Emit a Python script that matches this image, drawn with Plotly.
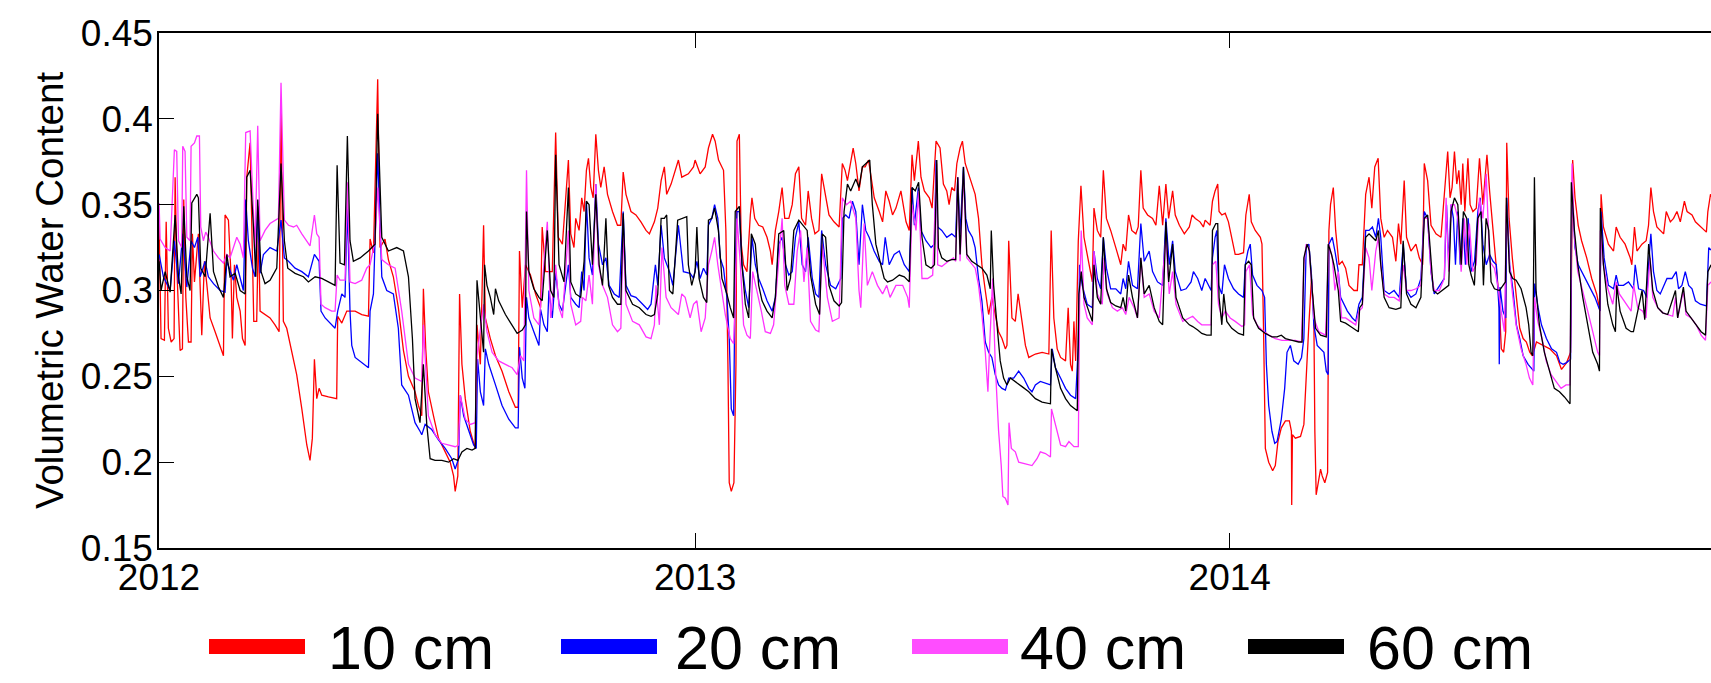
import pandas as pd
import plotly.graph_objects as go

BASE_DATE = "2012-01-01"
SERIES_NAMES = ["10 cm", "20 cm", "40 cm", "60 cm"]
YEAR_TICKS = ["2012-01-01", "2013-01-01", "2014-01-01"]
YEAR_LABELS = ["2012", "2013", "2014"]
Y_TICKS = [0.15, 0.2, 0.25, 0.3, 0.35, 0.4, 0.45]
Y_LABELS = ["0.15", "0.2", "0.25", "0.3", "0.35", "0.4", "0.45"]
X_END_DAY = 1059.55  # last day shown at the right edge (days after BASE_DATE)

# [day after 2012-01-01, volumetric water content]
D10 = [[0.07,0.339],[1.4,0.272],[3.7,0.271],[4.9,0.340],[6.4,0.278],[8.3,0.270],[10.3,0.272],[11.0,0.366],[12.4,0.308],[14.4,0.265],[16.0,0.266],[16.9,0.353],[18.3,0.296],[20.1,0.270],[21.9,0.270],[22.8,0.333],[24.2,0.305],[25.8,0.325],[26.9,0.333],[29.2,0.274],[31.0,0.317],[32.6,0.304],[34.9,0.284],[38.3,0.276],[41.7,0.268],[44.0,0.262],[45.1,0.344],[47.4,0.341],[49.2,0.308],[50.1,0.272],[51.5,0.315],[53.1,0.296],[55.4,0.288],[57.0,0.272],[58.8,0.268],[59.9,0.366],[62.2,0.386],[63.8,0.329],[64.7,0.282],[66.7,0.282],[67.9,0.337],[69.0,0.288],[72.4,0.286],[75.8,0.284],[79.2,0.280],[82.0,0.276],[83.3,0.411],[84.9,0.282],[87.2,0.278],[90.6,0.264],[94.0,0.251],[97.5,0.231],[100.9,0.210],[103.1,0.201],[104.7,0.214],[106.1,0.260],[107.7,0.237],[109.3,0.243],[111.1,0.239],[115.7,0.238],[121.3,0.237],[122.0,0.285],[124.8,0.281],[128.2,0.288],[133.9,0.288],[138.4,0.286],[143.0,0.285],[144.1,0.330],[146.4,0.322],[149.3,0.423],[150.9,0.325],[154.3,0.330],[156.6,0.318],[160.0,0.308],[163.4,0.290],[166.9,0.265],[170.3,0.250],
[174.8,0.241],[177.1,0.233],[179.4,0.227],[180.5,0.301],[182.1,0.266],[183.9,0.241],[187.4,0.227],[190.8,0.214],[195.4,0.206],[198.8,0.200],[201.1,0.192],[202.2,0.183],[204.0,0.192],[205.2,0.298],[206.8,0.257],[209.1,0.237],[212.5,0.218],[215.9,0.208],[217.1,0.280],[219.4,0.257],[221.6,0.338],[222.8,0.284],[226.2,0.272],[229.7,0.262],[234.2,0.253],[238.8,0.241],[243.3,0.232],[245.2,0.232],[246.1,0.323],[248.0,0.290],[250.2,0.315],[253.6,0.309],[257.1,0.298],[260.5,0.290],[261.6,0.337],[263.9,0.311],[268.5,0.311],[269.6,0.343],[270.8,0.392],[272.6,0.331],[275.4,0.327],[276.5,0.340],[279.5,0.376],[281.1,0.333],[283.3,0.325],[284.5,0.342],[286.8,0.335],[288.6,0.354],[290.2,0.346],[291.8,0.370],[293.2,0.377],[294.8,0.360],[296.4,0.354],[298.2,0.391],[300.0,0.370],[301.6,0.360],[303.9,0.372],[306.2,0.356],[309.6,0.346],[313.0,0.338],[315.3,0.338],[316.9,0.369],[318.8,0.356],[322.2,0.346],[325.6,0.344],[329.0,0.340],[332.5,0.335],[334.8,0.333],[338.2,0.340],[340.5,0.348],[342.8,0.364],[345.0,0.372],[346.6,0.356],[349.6,0.362],
[354.6,0.376],[356.9,0.366],[361.4,0.368],[364.9,0.372],[366.0,0.376],[369.4,0.368],[372.9,0.372],[375.1,0.383],[377.9,0.391],[379.7,0.387],[382.0,0.376],[385.4,0.370],[387.0,0.335],[388.4,0.257],[389.3,0.188],[390.7,0.183],[392.5,0.188],[393.9,0.257],[394.6,0.387],[396.2,0.391],[397.5,0.327],[399.1,0.315],[401.4,0.311],[403.7,0.344],[404.8,0.354],[406.7,0.342],[409.4,0.338],[412.2,0.337],[415.1,0.331],[417.4,0.323],[418.6,0.315],[420.8,0.335],[423.1,0.346],[425.4,0.360],[427.2,0.342],[430.0,0.342],[432.3,0.350],[434.5,0.368],[436.8,0.372],[438.7,0.342],[441.4,0.338],[443.2,0.358],[445.5,0.342],[447.8,0.333],[450.5,0.335],[452.4,0.368],[454.7,0.356],[457.4,0.344],[460.8,0.340],[464.3,0.337],[466.5,0.374],[468.4,0.370],[470.0,0.364],[472.2,0.374],[473.9,0.383],[475.7,0.374],[477.9,0.358],[480.2,0.372],[482.1,0.372],[484.4,0.376],[486.0,0.366],[488.3,0.354],[491.7,0.346],[494.0,0.340],[496.2,0.358],[498.5,0.352],[500.8,0.344],[503.1,0.348],[506.5,0.358],[510.0,0.340],[512.2,0.335],[514.1,0.379],[515.7,0.364],[518.4,0.387],[520.2,0.366],[522.5,0.358],[525.9,0.354],[527.8,0.348],[530.5,0.387],
[533.2,0.383],[535.5,0.362],[537.8,0.358],[539.4,0.350],[541.2,0.360],[543.1,0.358],[544.7,0.374],[546.9,0.383],[548.5,0.387],[550.4,0.374],[552.6,0.368],[554.9,0.362],[557.2,0.356],[559.5,0.342],[561.8,0.315],[564.1,0.300],[566.4,0.286],[568.6,0.296],[570.9,0.286],[573.2,0.276],[575.5,0.272],[577.8,0.266],[578.9,0.268],[580.1,0.329],[582.3,0.284],[584.6,0.282],[586.5,0.298],[588.7,0.284],[591.5,0.268],[593.8,0.261],[598.3,0.263],[602.9,0.264],[607.5,0.263],[609.1,0.335],[610.9,0.284],[613.2,0.266],[615.5,0.261],[618.9,0.259],[620.7,0.290],[622.3,0.257],[623.5,0.253],[624.6,0.282],[625.8,0.259],[627.6,0.329],[629.4,0.361],[631.5,0.331],[634.9,0.315],[637.2,0.305],[638.3,0.348],[640.6,0.335],[642.9,0.331],[644.7,0.370],[646.8,0.342],[649.7,0.335],[653.2,0.325],[656.6,0.315],[658.2,0.327],[660.0,0.323],[661.9,0.344],[664.1,0.335],[666.9,0.333],[668.5,0.337],[670.3,0.370],[671.9,0.348],[674.9,0.344],[678.3,0.342],[680.6,0.338],[682.9,0.361],[685.2,0.338],[687.4,0.362],[689.3,0.342],[692.0,0.358],[693.8,0.344],[696.6,0.338],[700.0,0.333],[703.4,0.337],[705.3,0.344],[707.5,0.342],
[710.7,0.340],[713.0,0.337],[714.2,0.341],[717.6,0.338],[719.2,0.352],[721.0,0.358],[722.8,0.362],[723.7,0.346],[725.6,0.344],[727.9,0.345],[730.1,0.340],[732.4,0.331],[734.7,0.321],[737.0,0.321],[740.4,0.322],[742.0,0.344],[744.3,0.356],[745.7,0.340],[748.4,0.335],[751.9,0.331],[753.0,0.327],[754.1,0.276],[755.3,0.208],[757.6,0.200],[760.3,0.195],[762.1,0.198],[763.9,0.212],[766.2,0.220],[769.0,0.224],[771.7,0.224],[773.1,0.218],[773.3,0.175],[773.8,0.216],[775.8,0.214],[779.3,0.215],[781.6,0.222],[783.4,0.257],[785.0,0.280],[786.8,0.307],[788.4,0.286],[789.1,0.218],[790.0,0.181],[791.4,0.188],[793.0,0.196],[794.1,0.192],[795.9,0.188],[797.8,0.194],[798.7,0.335],[799.8,0.350],[801.7,0.360],[803.3,0.335],[805.6,0.315],[807.8,0.317],[810.1,0.313],[812.4,0.303],[815.8,0.300],[818.1,0.300],[819.2,0.315],[821.5,0.315],[823.8,0.356],[826.1,0.366],[828.0,0.348],[830.0,0.372],[832.3,0.377],[834.1,0.342],[836.4,0.331],[838.7,0.335],[842.1,0.331],[844.4,0.317],[846.2,0.339],[847.8,0.327],[850.1,0.364],[851.7,0.331],[854.7,0.323],[858.1,0.327],[860.4,0.319],[862.7,0.315],[863.8,0.374],[866.1,0.364],[868.4,0.338],[871.8,0.333],[875.2,0.331],
[879.8,0.381],[881.4,0.354],[882.8,0.360],[884.4,0.381],[886.0,0.362],[887.4,0.370],[889.0,0.350],[890.1,0.374],[891.5,0.346],[893.6,0.377],[895.1,0.350],[897.0,0.346],[899.3,0.348],[901.5,0.377],[903.8,0.350],[906.6,0.379],[908.4,0.358],[910.7,0.335],[913.0,0.315],[914.8,0.296],[916.4,0.266],[918.0,0.264],[919.4,0.276],[920.1,0.386],[921.7,0.342],[923.9,0.319],[926.7,0.296],[929.0,0.278],[931.3,0.272],[933.5,0.270],[935.8,0.264],[937.6,0.262],[940.4,0.270],[945.0,0.268],[949.5,0.266],[954.1,0.262],[957.5,0.254],[961.0,0.258],[963.7,0.264],[965.1,0.376],[966.7,0.354],[968.9,0.338],[971.2,0.329],[974.7,0.319],[978.1,0.307],[981.5,0.298],[983.8,0.288],[984.5,0.356],[986.1,0.337],[989.5,0.327],[993.0,0.323],[994.8,0.337],[997.5,0.331],[1000.9,0.327],[1004.4,0.319],[1005.5,0.315],[1007.3,0.337],[1009.0,0.323],[1012.4,0.327],[1015.3,0.329],[1016.9,0.338],[1018.5,0.360],[1020.3,0.346],[1022.6,0.337],[1024.9,0.335],[1027.2,0.333],[1029.0,0.346],[1031.8,0.340],[1034.0,0.342],[1036.3,0.346],[1038.6,0.340],[1041.4,0.352],[1043.2,0.346],[1046.6,0.344],[1048.9,0.340],[1052.3,0.337],[1056.4,0.334],[1057.4,0.346],[1059.2,0.356],[1060.3,0.354]]

D20 = [[0.07,0.321],[3.0,0.308],[7.6,0.300],[10.5,0.329],[13.3,0.304],[16.2,0.333],[19.0,0.302],[21.9,0.329],[24.2,0.325],[26.5,0.331],[28.1,0.308],[31.5,0.317],[33.7,0.308],[37.2,0.304],[41.7,0.300],[45.1,0.299],[46.3,0.317],[50.8,0.306],[53.1,0.315],[55.4,0.308],[57.6,0.300],[59.2,0.353],[61.0,0.329],[63.8,0.313],[65.6,0.308],[67.4,0.349],[69.0,0.310],[71.3,0.321],[75.8,0.325],[80.4,0.323],[83.3,0.341],[85.6,0.319],[88.4,0.317],[92.9,0.313],[97.5,0.311],[102.0,0.308],[106.1,0.321],[109.3,0.317],[110.6,0.288],[113.4,0.284],[116.8,0.281],[120.2,0.278],[122.0,0.288],[124.8,0.298],[127.0,0.296],[128.6,0.349],[130.4,0.288],[131.6,0.268],[133.9,0.261],[138.4,0.258],[143.0,0.255],[144.1,0.288],[146.4,0.298],[149.3,0.380],[152.1,0.308],[155.5,0.300],[160.0,0.298],[163.4,0.278],[165.7,0.245],[170.3,0.239],
[174.8,0.223],[178.2,0.218],[179.4,0.216],[181.7,0.222],[186.2,0.219],[190.8,0.213],[195.4,0.208],[199.9,0.202],[202.2,0.196],[204.5,0.202],[205.7,0.239],[208.0,0.227],[211.4,0.218],[214.8,0.210],[216.6,0.208],[217.5,0.260],[219.4,0.241],[221.6,0.233],[222.8,0.266],[225.1,0.257],[229.7,0.245],[234.2,0.233],[238.8,0.225],[243.3,0.220],[245.2,0.220],[246.1,0.267],[248.0,0.249],[249.8,0.243],[250.9,0.296],[252.5,0.284],[255.9,0.276],[259.4,0.268],[260.5,0.289],[262.8,0.280],[265.1,0.276],[266.2,0.300],[268.5,0.284],[270.8,0.311],[273.1,0.292],[275.4,0.288],[279.5,0.315],[281.1,0.296],[284.5,0.292],[286.8,0.290],[288.6,0.311],[290.2,0.300],[291.8,0.352],[293.6,0.319],[295.9,0.309],[298.2,0.362],[300.0,0.327],[302.8,0.315],[305.1,0.319],[307.3,0.303],[310.8,0.298],[314.2,0.296],[316.9,0.346],[318.8,0.303],[322.2,0.297],[325.6,0.296],[330.2,0.292],[333.6,0.289],[335.9,0.292],[338.9,0.315],[340.5,0.303],[342.8,0.338],[345.0,0.319],[348.5,0.311],[350.8,0.303],
[354.6,0.338],[358.0,0.311],[362.6,0.310],[364.9,0.307],[367.2,0.317],[369.4,0.307],[371.7,0.313],[374.0,0.309],[375.1,0.338],[377.4,0.342],[379.3,0.350],[381.5,0.342],[383.1,0.319],[385.4,0.313],[387.7,0.296],[389.3,0.272],[390.7,0.231],[392.3,0.227],[393.4,0.315],[394.6,0.346],[396.2,0.346],[398.0,0.315],[400.3,0.300],[402.6,0.290],[404.8,0.331],[407.1,0.315],[409.4,0.307],[412.2,0.301],[415.1,0.294],[418.6,0.288],[420.8,0.296],[423.1,0.327],[425.4,0.331],[427.7,0.315],[430.0,0.309],[432.3,0.311],[434.5,0.331],[436.8,0.340],[439.1,0.315],[441.4,0.311],[443.2,0.331],[446.0,0.307],[448.3,0.298],[450.5,0.296],[452.4,0.335],[455.1,0.315],[458.5,0.303],[462.0,0.301],[465.4,0.307],[466.5,0.342],[468.8,0.344],[471.1,0.342],[473.4,0.352],[475.7,0.346],[477.9,0.315],[480.2,0.350],[482.5,0.335],[484.8,0.331],[488.2,0.323],[491.7,0.317],[494.0,0.315],[495.8,0.331],[498.5,0.315],[501.9,0.321],[505.4,0.323],[508.8,0.315],[512.2,0.311],[514.1,0.360],[515.7,0.338],[518.4,0.360],[520.2,0.335],[523.6,0.329],[527.1,0.325],[529.4,0.327],[530.5,0.376],
[531.6,0.337],[534.4,0.335],[537.8,0.331],[541.2,0.333],[543.9,0.331],[545.3,0.366],[546.9,0.333],[549.2,0.372],[550.8,0.342],[552.6,0.335],[555.3,0.331],[557.2,0.325],[559.5,0.307],[561.8,0.294],[564.1,0.270],[566.4,0.264],[568.6,0.261],[570.9,0.251],[573.2,0.245],[575.5,0.243],[577.8,0.242],[580.1,0.249],[583.5,0.249],[586.9,0.253],[590.3,0.249],[593.8,0.243],[596.0,0.241],[598.3,0.245],[601.7,0.247],[605.2,0.246],[608.6,0.245],[609.8,0.266],[612.0,0.255],[615.5,0.249],[618.9,0.243],[622.3,0.239],[625.8,0.237],[627.6,0.268],[628.5,0.315],[630.3,0.303],[633.7,0.292],[637.2,0.290],[638.3,0.323],[640.6,0.307],[642.9,0.301],[644.7,0.331],[646.8,0.313],[649.7,0.301],[653.2,0.301],[656.6,0.298],[658.2,0.307],[660.0,0.301],[661.9,0.317],[664.6,0.303],[668.0,0.301],[670.3,0.339],[672.6,0.317],[676.0,0.323],[678.3,0.311],[681.7,0.305],[685.2,0.303],[687.4,0.342],[689.7,0.315],[692.0,0.329],[693.8,0.311],[697.7,0.300],[701.2,0.301],[704.6,0.305],[706.2,0.311],[709.1,0.307],
[711.9,0.300],[714.2,0.307],[716.4,0.303],[718.3,0.300],[719.2,0.319],[721.0,0.331],[722.2,0.335],[723.3,0.303],[725.6,0.298],[727.4,0.315],[730.1,0.307],[733.6,0.301],[737.0,0.298],[740.4,0.296],[741.6,0.315],[743.4,0.323],[745.0,0.327],[746.6,0.309],[749.6,0.303],[753.0,0.300],[754.8,0.296],[756.0,0.257],[757.6,0.233],[759.8,0.218],[761.7,0.211],[763.3,0.212],[766.2,0.225],[768.5,0.243],[770.1,0.264],[772.4,0.268],[774.7,0.259],[777.7,0.257],[780.0,0.261],[781.6,0.272],[783.2,0.325],[785.0,0.327],[786.8,0.309],[788.4,0.280],[790.7,0.268],[793.0,0.266],[795.3,0.264],[796.9,0.253],[798.2,0.251],[798.7,0.327],[801.0,0.331],[802.8,0.323],[805.1,0.311],[806.7,0.296],[809.0,0.292],[811.3,0.288],[814.7,0.284],[817.0,0.282],[819.2,0.292],[821.5,0.296],[823.8,0.335],[826.1,0.335],[828.4,0.337],[830.7,0.331],[832.5,0.342],[834.1,0.331],[836.4,0.300],[839.8,0.298],[843.2,0.300],[846.7,0.296],[849.4,0.327],[851.7,0.300],[854.7,0.296],[858.1,0.298],[861.5,0.307],[863.8,0.346],[866.1,0.342],[868.4,0.311],[870.6,0.298],[874.1,0.303],[877.5,0.307],
[879.0,0.350],[880.5,0.315],[882.1,0.350],[883.7,0.342],[885.1,0.315],[886.7,0.346],[888.3,0.315],[890.1,0.342],[891.9,0.315],[893.8,0.342],[895.8,0.311],[898.1,0.317],[900.4,0.346],[902.0,0.354],[903.8,0.327],[906.1,0.315],[908.4,0.321],[910.7,0.317],[913.0,0.315],[914.8,0.290],[915.0,0.257],[915.5,0.302],[917.5,0.288],[919.4,0.284],[920.1,0.354],[922.1,0.315],[924.4,0.300],[926.7,0.280],[929.0,0.272],[931.3,0.262],[934.7,0.257],[937.0,0.255],[938.6,0.253],[939.2,0.304],[941.5,0.290],[943.8,0.280],[947.2,0.272],[950.7,0.266],[954.1,0.264],[956.4,0.258],[958.6,0.257],[960.9,0.258],[963.7,0.260],[964.6,0.362],[966.7,0.325],[968.9,0.315],[972.4,0.309],[975.8,0.303],[980.3,0.296],[983.8,0.288],[984.5,0.346],[986.6,0.319],[989.5,0.303],[993.0,0.301],[994.8,0.309],[996.4,0.303],[999.8,0.303],[1003.2,0.305],[1006.6,0.301],[1007.8,0.315],[1010.1,0.301],[1013.5,0.300],[1015.8,0.296],[1016.9,0.315],[1018.5,0.333],[1020.3,0.311],[1022.6,0.300],[1024.9,0.298],[1027.2,0.303],[1029.5,0.307],[1032.9,0.307],[1035.8,0.311],[1037.4,0.301],[1039.7,0.303],[1042.0,0.311],[1044.3,0.303],[1046.6,0.301],[1048.9,0.294],[1052.3,0.292],[1056.4,0.291],[1058.0,0.325],[1060.3,0.323]]

D40 = [[0.07,0.351],[0.75,0.330],[4.2,0.325],[7.6,0.323],[10.5,0.382],[12.1,0.381],[13.3,0.329],[15.5,0.325],[16.2,0.384],[17.8,0.381],[19.0,0.331],[21.2,0.329],[21.9,0.384],[24.2,0.386],[25.8,0.390],[27.6,0.390],[28.5,0.337],[30.3,0.329],[31.9,0.334],[33.7,0.331],[37.2,0.323],[40.6,0.319],[44.0,0.316],[46.3,0.321],[48.5,0.319],[50.8,0.325],[53.1,0.331],[55.4,0.327],[57.6,0.319],[59.2,0.392],[62.2,0.393],[64.5,0.345],[65.6,0.325],[67.4,0.396],[69.0,0.329],[72.4,0.335],[75.8,0.339],[81.5,0.342],[83.3,0.421],[85.6,0.341],[88.4,0.338],[91.8,0.337],[94.0,0.338],[97.5,0.333],[100.9,0.329],[103.1,0.326],[106.1,0.344],[107.7,0.333],[109.3,0.331],[110.6,0.292],[113.4,0.290],[117.9,0.288],[120.2,0.288],[121.6,0.309],[123.6,0.306],[127.0,0.306],[128.6,0.363],[130.4,0.305],[133.9,0.304],[138.4,0.306],[141.8,0.313],[144.1,0.315],[147.5,0.329],[149.3,0.360],[152.1,0.318],[156.6,0.315],[161.2,0.313],[165.7,0.288],[170.3,0.257],
[174.8,0.249],[179.4,0.247],[180.5,0.280],[183.9,0.227],[188.5,0.216],[193.1,0.211],[197.7,0.210],[202.2,0.209],[204.5,0.210],[205.7,0.239],[209.1,0.225],[212.5,0.222],[215.9,0.223],[217.1,0.262],[221.6,0.292],[223.9,0.276],[227.4,0.264],[231.9,0.259],[236.5,0.257],[241.1,0.255],[244.5,0.251],[246.8,0.262],[249.1,0.259],[250.9,0.370],[252.5,0.300],[255.9,0.284],[259.4,0.280],[265.1,0.340],[267.4,0.284],[270.8,0.315],[273.1,0.290],[275.4,0.284],[279.5,0.335],[281.1,0.292],[284.5,0.280],[287.9,0.282],[289.1,0.296],[291.4,0.294],[293.6,0.309],[295.9,0.292],[298.2,0.362],[300.0,0.315],[302.8,0.303],[306.2,0.296],[309.6,0.280],[313.0,0.276],[315.3,0.278],[316.9,0.335],[318.8,0.292],[323.3,0.282],[327.9,0.280],[332.5,0.273],[335.9,0.272],[338.2,0.280],[339.3,0.303],[341.6,0.280],[343.4,0.325],[346.2,0.296],[349.6,0.290],
[354.6,0.286],[356.9,0.298],[359.2,0.296],[362.6,0.284],[364.9,0.292],[367.2,0.294],[370.1,0.276],[372.9,0.284],[375.1,0.315],[377.4,0.323],[379.3,0.331],[381.5,0.315],[384.3,0.298],[386.6,0.286],[390.0,0.272],[392.3,0.269],[393.4,0.296],[394.6,0.342],[396.9,0.315],[399.1,0.280],[401.4,0.274],[403.7,0.272],[405.3,0.311],[408.3,0.300],[411.2,0.288],[413.9,0.276],[417.4,0.275],[419.6,0.280],[423.1,0.315],[425.4,0.342],[427.2,0.303],[430.0,0.292],[433.4,0.292],[435.7,0.323],[438.0,0.335],[440.3,0.305],[442.5,0.325],[444.8,0.282],[448.3,0.277],[450.5,0.276],[452.8,0.327],[456.3,0.296],[459.7,0.282],[464.3,0.284],[466.5,0.354],[469.3,0.350],[472.2,0.352],[475.7,0.342],[477.9,0.300],[479.1,0.290],[481.4,0.339],[483.6,0.303],[487.0,0.311],[490.5,0.303],[494.0,0.298],[496.8,0.303],[499.1,0.296],[503.1,0.303],[507.7,0.303],[511.1,0.296],[512.2,0.290],[514.1,0.350],[516.8,0.335],[518.6,0.358],[520.9,0.307],[524.8,0.307],[528.2,0.309],[530.9,0.374],
[531.6,0.315],[534.4,0.314],[538.9,0.317],[542.4,0.319],[543.9,0.317],[545.3,0.366],[546.9,0.317],[549.2,0.368],[551.5,0.319],[554.9,0.315],[557.2,0.313],[559.5,0.303],[561.8,0.286],[564.1,0.264],[565.9,0.241],[567.0,0.266],[569.1,0.307],[570.9,0.257],[572.1,0.231],[573.2,0.218],[575.0,0.198],[576.1,0.180],[577.8,0.179],[579.6,0.175],[580.3,0.223],[581.9,0.208],[584.6,0.206],[586.9,0.200],[591.5,0.199],[596.0,0.198],[599.4,0.202],[601.7,0.206],[605.2,0.205],[608.6,0.203],[609.3,0.231],[612.0,0.222],[615.5,0.210],[618.9,0.209],[621.2,0.212],[624.6,0.209],[627.6,0.209],[628.5,0.292],[629.6,0.335],[631.5,0.292],[633.7,0.284],[637.2,0.280],[638.3,0.323],[640.6,0.298],[644.0,0.292],[645.2,0.319],[647.4,0.298],[650.9,0.290],[654.3,0.288],[657.7,0.290],[660.0,0.286],[662.3,0.296],[665.7,0.290],[668.0,0.284],[670.3,0.319],[672.6,0.296],[676.0,0.298],[679.4,0.288],[682.9,0.284],[687.4,0.331],[689.7,0.298],[692.0,0.311],[694.3,0.292],[698.9,0.282],[703.4,0.284],[705.7,0.285],[709.1,0.282],
[711.9,0.280],[715.3,0.280],[718.3,0.280],[719.2,0.315],[721.5,0.317],[723.3,0.292],[725.6,0.284],[727.9,0.288],[731.3,0.284],[734.7,0.282],[739.3,0.279],[741.1,0.280],[742.0,0.311],[744.5,0.315],[746.6,0.286],[749.6,0.280],[753.0,0.277],[757.6,0.274],[762.1,0.272],[766.7,0.271],[771.3,0.271],[775.8,0.271],[780.0,0.270],[781.6,0.315],[783.2,0.327],[785.0,0.325],[786.8,0.305],[788.4,0.284],[791.8,0.276],[796.4,0.274],[798.7,0.327],[801.0,0.319],[802.8,0.300],[805.1,0.311],[807.4,0.284],[810.1,0.284],[813.5,0.282],[817.0,0.280],[819.2,0.288],[821.5,0.290],[823.8,0.325],[826.1,0.319],[828.0,0.300],[830.7,0.323],[832.5,0.331],[834.1,0.315],[836.4,0.298],[839.8,0.296],[843.2,0.296],[846.7,0.294],[849.4,0.315],[851.7,0.300],[854.7,0.300],[858.1,0.301],[861.5,0.303],[863.8,0.342],[866.1,0.342],[868.4,0.311],[870.6,0.300],[874.1,0.300],[877.5,0.307],
[878.7,0.354],[880.5,0.311],[882.1,0.350],[884.4,0.350],[886.7,0.342],[889.0,0.311],[891.2,0.342],[892.8,0.315],[894.6,0.339],[896.9,0.311],[899.2,0.315],[901.5,0.354],[903.8,0.342],[906.1,0.368],[908.4,0.317],[911.7,0.313],[914.0,0.303],[916.3,0.288],[918.5,0.276],[919.9,0.350],[922.0,0.315],[924.3,0.296],[926.5,0.280],[929.9,0.266],[933.3,0.257],[935.6,0.249],[937.9,0.245],[939.0,0.296],[941.3,0.282],[944.7,0.270],[947.0,0.259],[950.4,0.251],[953.8,0.247],[957.2,0.243],[960.6,0.245],[963.3,0.245],[964.7,0.374],[966.3,0.331],[968.6,0.311],[972.0,0.300],[975.4,0.288],[978.8,0.276],[982.2,0.264],[983.4,0.262],[984.0,0.335],[986.1,0.315],[989.1,0.301],[992.5,0.292],[994.8,0.305],[997.0,0.298],[1001.6,0.292],[1005.0,0.288],[1006.8,0.303],[1009.5,0.290],[1012.9,0.288],[1015.2,0.284],[1016.4,0.301],[1018.0,0.319],[1019.8,0.296],[1023.2,0.290],[1026.6,0.287],[1030.0,0.286],[1033.4,0.285],[1035.3,0.296],[1036.8,0.284],[1040.7,0.300],[1042.5,0.286],[1046.0,0.284],[1049.4,0.280],[1052.8,0.274],[1055.8,0.271],[1057.4,0.303],[1059.6,0.305]]

D60 = [[0.07,0.317],[1.4,0.300],[4.2,0.311],[7.6,0.299],[11.0,0.344],[13.3,0.308],[15.1,0.298],[16.9,0.349],[19.0,0.308],[21.2,0.300],[22.4,0.351],[25.8,0.356],[26.9,0.354],[28.5,0.313],[31.5,0.308],[34.9,0.345],[37.2,0.311],[40.6,0.302],[44.0,0.296],[46.3,0.321],[48.5,0.308],[52.0,0.310],[55.4,0.300],[58.8,0.298],[59.9,0.366],[62.2,0.370],[64.5,0.337],[66.1,0.308],[67.4,0.353],[69.7,0.311],[72.4,0.304],[75.8,0.306],[80.4,0.313],[83.3,0.374],[85.6,0.329],[87.9,0.313],[92.9,0.310],[98.6,0.308],[102.0,0.305],[106.6,0.308],[111.1,0.307],[115.7,0.305],[120.2,0.303],[121.6,0.373],[123.6,0.316],[126.6,0.315],[128.6,0.390],[130.4,0.329],[132.7,0.317],[137.3,0.319],[143.0,0.323],[147.5,0.327],[149.3,0.403],[152.1,0.331],[156.6,0.323],[162.3,0.325],[166.9,0.323],[170.3,0.308],[173.0,0.272],
[174.8,0.237],[178.2,0.223],[180.5,0.257],[182.8,0.222],[185.1,0.202],[188.5,0.201],[193.1,0.201],[197.7,0.200],[201.1,0.202],[204.0,0.201],[206.8,0.206],[210.2,0.208],[213.7,0.207],[215.9,0.208],[217.1,0.306],[219.4,0.286],[221.6,0.264],[222.3,0.315],[223.9,0.303],[226.2,0.296],[228.5,0.286],[229.7,0.301],[231.9,0.294],[236.5,0.286],[241.1,0.280],[244.5,0.275],[248.0,0.277],[250.2,0.280],[250.9,0.346],[252.5,0.311],[255.9,0.301],[259.4,0.296],[261.6,0.294],[265.1,0.335],[267.4,0.300],[269.6,0.296],[270.8,0.379],[273.1,0.315],[276.5,0.305],[279.5,0.360],[281.1,0.305],[284.5,0.298],[287.9,0.296],[290.2,0.317],[291.8,0.352],[293.6,0.350],[295.9,0.315],[298.2,0.356],[300.5,0.315],[302.8,0.303],[305.1,0.342],[306.9,0.303],[309.6,0.296],[313.0,0.292],[315.3,0.292],[316.9,0.345],[318.8,0.300],[323.3,0.292],[327.9,0.290],[332.5,0.286],[335.9,0.285],[338.2,0.286],[340.5,0.298],[342.8,0.342],[345.0,0.342],[346.6,0.344],[348.5,0.300],[350.8,0.298],
[354.1,0.341],[356.9,0.342],[360.3,0.343],[361.4,0.315],[363.7,0.303],[366.0,0.311],[367.2,0.337],[368.7,0.307],[371.7,0.296],[374.0,0.293],[375.1,0.341],[377.4,0.342],[379.3,0.348],[381.9,0.335],[384.3,0.307],[387.7,0.298],[390.0,0.290],[392.3,0.284],[393.4,0.346],[396.2,0.349],[398.0,0.315],[400.3,0.292],[402.6,0.284],[404.4,0.333],[407.1,0.327],[409.4,0.303],[411.7,0.294],[415.1,0.288],[418.6,0.284],[420.8,0.296],[423.1,0.333],[426.5,0.335],[428.8,0.300],[431.1,0.307],[433.4,0.335],[436.8,0.341],[440.3,0.337],[442.5,0.335],[444.8,0.309],[448.3,0.292],[451.0,0.286],[452.8,0.333],[455.1,0.331],[457.4,0.303],[460.8,0.294],[464.3,0.291],[466.0,0.293],[467.7,0.346],[470.0,0.362],[472.2,0.358],[475.7,0.365],[477.9,0.360],[480.2,0.372],[482.5,0.374],[485.2,0.376],[487.0,0.350],[489.4,0.327],[492.8,0.315],[495.1,0.307],[497.4,0.305],[500.8,0.306],[505.4,0.309],[508.8,0.308],[512.2,0.305],[514.1,0.360],[516.3,0.358],[518.6,0.363],[520.9,0.331],[523.6,0.315],[527.1,0.313],[529.4,0.315],[531.0,0.376],
[532.1,0.325],[534.4,0.319],[537.8,0.317],[541.2,0.318],[543.9,0.318],[545.3,0.366],[546.9,0.321],[549.2,0.372],[551.5,0.321],[554.9,0.317],[558.4,0.315],[561.8,0.313],[565.2,0.309],[567.5,0.301],[568.2,0.335],[569.8,0.303],[572.1,0.280],[574.3,0.259],[576.6,0.249],[578.9,0.245],[581.2,0.249],[584.6,0.247],[589.2,0.244],[593.8,0.241],[598.3,0.237],[602.9,0.235],[608.6,0.234],[609.3,0.266],[612.0,0.255],[615.5,0.243],[618.9,0.237],[622.3,0.233],[626.9,0.230],[628.0,0.298],[629.6,0.311],[631.5,0.296],[634.9,0.288],[637.2,0.282],[638.3,0.315],[640.6,0.296],[642.9,0.292],[644.7,0.331],[646.8,0.301],[649.7,0.293],[653.2,0.291],[656.6,0.290],[658.2,0.296],[660.0,0.288],[661.9,0.309],[664.6,0.296],[668.0,0.284],[670.3,0.319],[672.6,0.298],[676.0,0.303],[679.4,0.290],[682.9,0.282],[685.2,0.280],[687.4,0.340],[689.3,0.305],[692.0,0.327],[694.3,0.296],[698.9,0.284],[703.4,0.280],[705.7,0.279],[709.1,0.277],
[711.9,0.275],[715.3,0.274],[718.3,0.274],[719.2,0.335],[721.5,0.339],[722.8,0.339],[723.7,0.296],[725.6,0.280],[726.9,0.298],[729.0,0.282],[732.4,0.278],[737.0,0.275],[740.4,0.274],[741.6,0.315],[743.9,0.317],[745.7,0.315],[747.3,0.284],[750.7,0.278],[755.3,0.275],[759.8,0.273],[763.3,0.273],[766.2,0.274],[769.0,0.272],[773.6,0.271],[778.1,0.270],[780.4,0.270],[781.6,0.319],[783.8,0.327],[785.4,0.323],[787.3,0.300],[789.6,0.278],[793.0,0.274],[796.9,0.273],[798.2,0.327],[800.5,0.321],[802.1,0.315],[805.1,0.300],[806.7,0.282],[810.1,0.281],[813.5,0.279],[817.0,0.277],[818.8,0.276],[819.7,0.290],[821.5,0.292],[823.8,0.331],[826.1,0.333],[828.4,0.331],[830.7,0.329],[832.5,0.335],[834.1,0.315],[836.4,0.296],[839.8,0.290],[844.4,0.289],[847.8,0.290],[849.4,0.329],[851.7,0.298],[854.7,0.292],[858.1,0.290],[861.5,0.296],[863.8,0.342],[866.1,0.344],[868.4,0.315],[870.0,0.300],[872.9,0.298],[877.5,0.301],
[880.5,0.303],[882.1,0.346],[884.4,0.354],[886.7,0.350],[889.0,0.315],[890.5,0.346],[892.8,0.342],[894.2,0.315],[895.8,0.309],[898.0,0.303],[900.3,0.342],[902.6,0.346],[904.2,0.303],[906.0,0.342],[907.8,0.335],[909.4,0.305],[911.7,0.301],[915.1,0.300],[917.4,0.303],[919.2,0.305],[919.9,0.354],[922.0,0.311],[924.2,0.307],[926.5,0.306],[929.9,0.301],[933.3,0.290],[935.1,0.280],[936.7,0.264],[937.9,0.262],[939.0,0.366],[940.1,0.300],[942.4,0.280],[945.8,0.264],[949.2,0.253],[952.6,0.243],[956.1,0.241],[959.5,0.238],[963.3,0.234],[964.2,0.363],[966.3,0.335],[968.6,0.315],[972.0,0.296],[975.4,0.280],[978.8,0.264],[982.2,0.257],[983.4,0.253],[984.0,0.348],[986.1,0.315],[989.1,0.292],[992.5,0.280],[994.3,0.276],[995.2,0.303],[997.5,0.288],[1001.6,0.278],[1005.0,0.276],[1006.6,0.276],[1012.5,0.300],[1014.3,0.283],[1017.0,0.327],[1019.8,0.300],[1023.2,0.290],[1026.6,0.287],[1030.0,0.286],[1035.3,0.300],[1036.8,0.284],[1040.7,0.302],[1042.5,0.288],[1046.0,0.284],[1049.4,0.280],[1052.8,0.276],[1055.8,0.274],[1057.4,0.311],[1059.6,0.315]]

LINE_COLORS = ["#ff0000", "#0000ff", "#ff33ff", "#000000"]
LEGEND_COLORS = ["#ff0000", "#0000ff", "#ff4dff", "#000000"]

FONT = "Liberation Sans, Arial, Helvetica, sans-serif"
W, H = 1711, 683
ML, MR, MT, MB = 159, 0, 33, 135
PW, PH = W - ML - MR, H - MT - MB

base = pd.Timestamp(BASE_DATE)


def to_dates(days):
    return [base + pd.Timedelta(days=d) for d in days]


fig = go.Figure()
for name, data, color in zip(SERIES_NAMES, [D10, D20, D40, D60], LINE_COLORS):
    days = [p[0] for p in data]
    vals = [p[1] for p in data]
    fig.add_trace(go.Scatter(x=to_dates(days), y=vals, mode="lines", name=name,
                             line=dict(color=color, width=1.3), showlegend=False))


# legend drawn below the plot (pixel layout converted to paper coordinates)
def px_x(p):
    return (p - ML) / PW


def px_y(p):
    return (H - MB - p) / PH


bar_left = [209, 561, 912, 1248]
text_left = [326, 673, 1018, 1365]
shapes = []
annotations = []
for name, col, bl, tl in zip(SERIES_NAMES, LEGEND_COLORS, bar_left, text_left):
    shapes.append(dict(type="rect", xref="paper", yref="paper",
                       x0=px_x(bl), x1=px_x(bl + 96), y0=px_y(654), y1=px_y(639),
                       fillcolor=col, line=dict(width=0)))
    annotations.append(dict(text=name, xref="paper", yref="paper", x=px_x(tl), y=px_y(648),
                            xanchor="left", yanchor="middle", showarrow=False,
                            font=dict(family=FONT, size=61, color="black")))

x_end = base + pd.Timedelta(days=X_END_DAY)

fig.update_layout(
    width=W, height=H,
    margin=dict(l=ML, r=MR, t=MT, b=MB, pad=0),
    paper_bgcolor="white", plot_bgcolor="white",
    font=dict(family=FONT, size=37, color="black"),
    shapes=shapes, annotations=annotations,
    xaxis=dict(type="date", range=[base, x_end], tickvals=YEAR_TICKS, ticktext=YEAR_LABELS,
               ticks="inside", ticklen=15, tickwidth=1, tickcolor="black",
               showline=True, linecolor="black", linewidth=1.5, mirror="ticks",
               showgrid=False, zeroline=False, ticklabelstandoff=-4,
               tickfont=dict(family=FONT, size=37, color="black")),
    yaxis=dict(range=[0.15, 0.45], tickvals=Y_TICKS, ticktext=Y_LABELS,
               ticks="inside", ticklen=15, tickwidth=1, tickcolor="black",
               showline=True, linecolor="black", linewidth=1.5, mirror=False,
               showgrid=False, zeroline=False, ticklabelstandoff=-3,
               tickfont=dict(family=FONT, size=37, color="black"),
               title=dict(text="Volumetric Water Content", standoff=5,
                          font=dict(family=FONT, size=38.5, color="black"))),
    yaxis2=dict(overlaying="y", side="right", range=[0.15, 0.45], tickvals=Y_TICKS,
                ticks="inside", ticklen=7, tickwidth=1, tickcolor="black",
                showticklabels=False, showline=False, showgrid=False, zeroline=False),
)

fig.write_html("out.html",
               config={"displayModeBar": False},
               post_script="document.documentElement.style.margin='0';"
                           "document.body.style.margin='0';"
                           "document.body.style.overflow='hidden';")
